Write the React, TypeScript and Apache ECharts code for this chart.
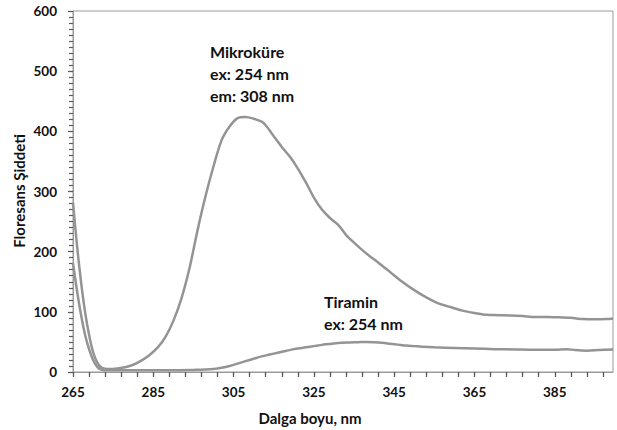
import React, { useEffect, useRef } from "react";
import * as echarts from "echarts";

// Wavelength (nm) and fluorescence intensity
const mikrokureX = [265, 266, 267, 268, 269, 270, 271, 272, 273, 274, 276, 278, 280, 282, 284, 286, 288, 290, 292, 294, 296, 298, 300, 302, 304, 306, 308, 310, 312, 313, 315, 317, 319, 321, 323, 325, 327, 329, 331, 333, 335, 337, 339, 341, 344, 347, 350, 353, 356, 359, 362, 365, 368, 371, 374, 377, 380, 383, 386, 389, 392, 395, 398, 399.5];
const mikrokureY = [282, 210, 150, 100, 62, 33, 16, 8, 5.5, 5, 6, 8, 12, 19, 28, 40, 58, 85, 122, 172, 235, 292, 342, 385, 408, 422, 424, 421, 416, 410, 392, 374, 358, 338, 315, 290, 270, 256, 245, 228, 215, 203, 192, 182, 166, 150, 136, 124, 114, 108, 102, 98, 95, 94.5, 94, 93, 91.5, 91.5, 91, 90, 88, 87.5, 88, 89];

const tiraminX = [265, 266, 267, 268, 269, 270, 271, 272, 273, 275, 280, 285, 290, 295, 298, 300, 302, 304, 306, 308, 310, 312, 314, 316, 318, 320, 322, 324, 326, 328, 330, 332, 334, 336, 338, 340, 342, 344, 346, 348, 350, 352, 355, 360, 365, 370, 375, 380, 385, 388, 390, 393, 396, 399.5];
const tiraminY = [181, 135, 95, 62, 38, 20, 9, 4, 3, 3, 3, 3, 3, 3.5, 4, 5, 7, 10, 14, 18, 22, 26, 29, 32, 35, 38, 40, 42, 44, 46, 47.5, 48.5, 49, 49.5, 50, 49.5, 48.5, 47, 45.5, 44, 43, 42, 41, 40, 39, 38, 37.5, 37, 37, 38, 36.5, 35.5, 36.5, 37.5];

const xLabelValues = [265, 285, 305, 325, 345, 365, 385];
const xTickValues = [265, 269, 273, 277, 281, 285, 289, 293, 297, 301, 305, 309, 313, 317, 321, 325, 329, 333, 337, 341, 345, 349, 353, 357, 361, 365, 369, 373, 377, 381, 385, 389, 393, 397];

const yAxisTitle = "Floresans Şiddeti";
const xAxisTitle = "Dalga boyu, nm";
const mikrokureLabel = "Mikroküre\nex: 254 nm\nem: 308 nm";
const tiraminLabel = "Tiramin\nex: 254 nm";

const FONT = "Lato";
const GRAY = "#9a9a9a";
const TICK = "#5a5a5a";
const LINE = "#949494";

export default function App() {
  const ref = useRef<HTMLDivElement>(null);
  useEffect(() => {
    if (!ref.current) return;
    const chart = echarts.init(ref.current, null, { renderer: "svg" });
    const pair = (xs: number[], ys: number[]) => xs.map((x, i) => [x, ys[i]]);
    chart.setOption({
      animation: false,
      backgroundColor: "#ffffff",
      textStyle: { fontFamily: FONT },
      grid: {
        left: 73,
        right: 4,
        top: 11,
        bottom: 58,
        show: true,
        borderColor: GRAY,
        borderWidth: 1,
        containLabel: false,
      },
      xAxis: {
        type: "value",
        min: 265,
        max: 399.5,
        axisLine: { show: true, lineStyle: { color: GRAY, width: 1 } },
        axisTick: { show: true, length: 5, inside: false, customValues: xTickValues, lineStyle: { color: TICK, width: 1.3 } },
        axisLabel: {
          customValues: xLabelValues,
          margin: 13,
          color: "#111",
          fontFamily: FONT,
          fontWeight: "bold",
          fontSize: 13.5,
        },
        splitLine: { show: false },
      },
      yAxis: {
        type: "value",
        min: 0,
        max: 600,
        interval: 100,
        axisLine: { show: true, lineStyle: { color: GRAY, width: 1 } },
        axisTick: { show: true, length: 5, inside: false, lineStyle: { color: TICK, width: 1.3 } },
        minorTick: { show: true, splitNumber: 10, length: 4, lineStyle: { color: TICK, width: 1.2 } },
        axisLabel: {
          margin: 16,
          color: "#111",
          fontFamily: FONT,
          fontWeight: "bold",
          fontSize: 13.5,
        },
        splitLine: { show: false },
        minorSplitLine: { show: false },
      },
      series: [
        {
          name: "Mikroküre",
          type: "line",
          data: pair(mikrokureX, mikrokureY),
          showSymbol: false,
          smooth: 0.3,
          lineStyle: { color: LINE, width: 2.5 },
          z: 3,
        },
        {
          name: "Tiramin",
          type: "line",
          data: pair(tiraminX, tiraminY),
          showSymbol: false,
          smooth: 0.3,
          lineStyle: { color: LINE, width: 2.5 },
          z: 3,
        },
      ],
      graphic: [
        {
          type: "text",
          x: 19,
          y: 191,
          rotation: Math.PI / 2,
          style: {
            text: yAxisTitle,
            align: "center",
            verticalAlign: "middle",
            fontFamily: FONT,
            fontWeight: "bold",
            fontSize: 15,
            fill: "#111",
          },
        },
        {
          type: "text",
          x: 310,
          y: 418,
          style: {
            text: xAxisTitle,
            align: "center",
            verticalAlign: "middle",
            fontFamily: FONT,
            fontWeight: "bold",
            fontSize: 15,
            fill: "#111",
          },
        },
        {
          type: "text",
          x: 210,
          y: 41,
          style: {
            text: mikrokureLabel,
            align: "left",
            verticalAlign: "top",
            lineHeight: 21.7,
            fontFamily: FONT,
            fontWeight: "bold",
            fontSize: 16,
            fill: "#111",
          },
        },
        {
          type: "text",
          x: 324,
          y: 291,
          style: {
            text: tiraminLabel,
            align: "left",
            verticalAlign: "top",
            lineHeight: 21.7,
            fontFamily: FONT,
            fontWeight: "bold",
            fontSize: 16,
            fill: "#111",
          },
        },
      ],
    });
    return () => chart.dispose();
  }, []);
  return (
    <div
      ref={ref}
      style={{ position: "fixed", left: 0, top: 0, width: 617, height: 430, background: "#fff" }}
    />
  );
}
